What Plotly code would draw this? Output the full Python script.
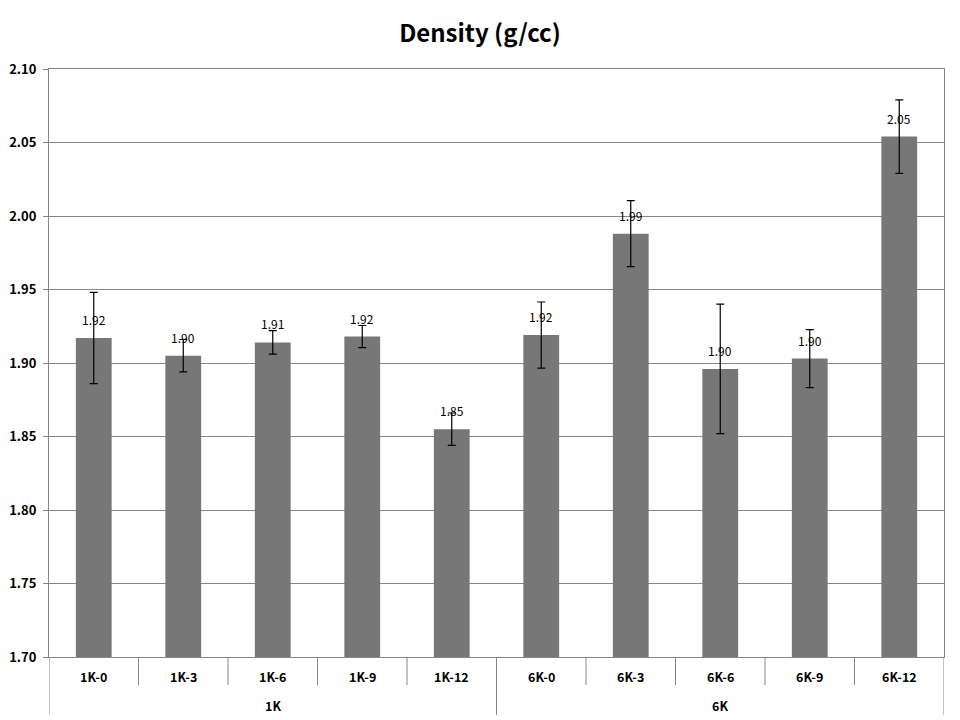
import plotly.graph_objects as go

groups = ["1K"] * 5 + ["6K"] * 5
samples = ["1K-0", "1K-3", "1K-6", "1K-9", "1K-12", "6K-0", "6K-3", "6K-6", "6K-9", "6K-12"]
density = [1.917, 1.905, 1.914, 1.918, 1.855, 1.919, 1.988, 1.896, 1.903, 2.054]
errors = [0.031, 0.011, 0.008, 0.0075, 0.011, 0.0225, 0.0225, 0.044, 0.0197, 0.025]
labels = ["1.92", "1.90", "1.91", "1.92", "1.85", "1.92", "1.99", "1.90", "1.90", "2.05"]
y_ticks = [1.70, 1.75, 1.80, 1.85, 1.90, 1.95, 2.00, 2.05, 2.10]

FONT = "Noto Sans CJK KR, Noto Sans, sans-serif"
GRID = "#868686"
W, H = 960, 720
M = dict(l=49, r=16, t=69, b=63)
PH = H - M["t"] - M["b"]  # plot height in px

fig = go.Figure()
fig.add_trace(go.Bar(
    x=samples,
    y=density,
    marker=dict(color="#777777", line=dict(width=0)),
    error_y=dict(type="data", array=errors, visible=True, color="black", thickness=1.2, width=4),
    cliponaxis=False,
))

# data labels above bars
for s, v, t in zip(samples, density, labels):
    fig.add_annotation(x=s, y=v, xref="x", yref="y", text=t, showarrow=False,
                       yanchor="bottom", yshift=8,
                       font=dict(family=FONT, size=12, color="black"))

# category axis: sample labels, boundary ticks, group labels and dividers
def py(px):
    return -px / PH

n = len(samples)
group_bounds = [0]
for i in range(1, n):
    if groups[i] != groups[i - 1]:
        group_bounds.append(i)
group_bounds.append(n)

for i in range(n + 1):
    long = i in group_bounds
    fig.add_shape(type="line", xref="x", yref="paper", x0=i - 0.5, x1=i - 0.5,
                  y0=0, y1=py(58 if long else 28), line=dict(color=GRID, width=1))

for i, s in enumerate(samples):
    fig.add_annotation(x=i, y=py(19), xref="x", yref="paper", text=f"<b>{s}</b>",
                       showarrow=False, yanchor="middle",
                       font=dict(family=FONT, size=12.5, color="black"))

for a, b in zip(group_bounds[:-1], group_bounds[1:]):
    fig.add_annotation(x=(a + b - 1) / 2, y=py(48), xref="x", yref="paper",
                       text=f"<b>{groups[a]}</b>", showarrow=False, yanchor="middle",
                       font=dict(family=FONT, size=12.5, color="black"))

fig.update_layout(
    width=W, height=H,
    paper_bgcolor="white", plot_bgcolor="white",
    margin=M,
    bargap=0.6,
    showlegend=False,
    title=dict(text="<b>Density (g/cc)</b>", x=0.5, xanchor="center", y=0.954, yanchor="middle",
               font=dict(family=FONT, size=24, color="black")),
)
fig.update_yaxes(
    range=[1.70, 2.10], tickvals=y_ticks, tickformat=".2f", automargin=False,
    showgrid=True, gridcolor=GRID, gridwidth=1,
    showline=True, linecolor=GRID, linewidth=1, mirror=True,
    ticks="outside", ticklen=5, tickcolor=GRID, ticklabelstandoff=4,
    tickfont=dict(family=FONT, size=13, color="black", weight="bold"),
    zeroline=False,
)
fig.update_xaxes(
    type="category", range=[-0.5, n - 0.5], automargin=False,
    showline=True, linecolor=GRID, linewidth=1, mirror=True,
    ticks="", showticklabels=False,
)

fig.write_html("out.html")
